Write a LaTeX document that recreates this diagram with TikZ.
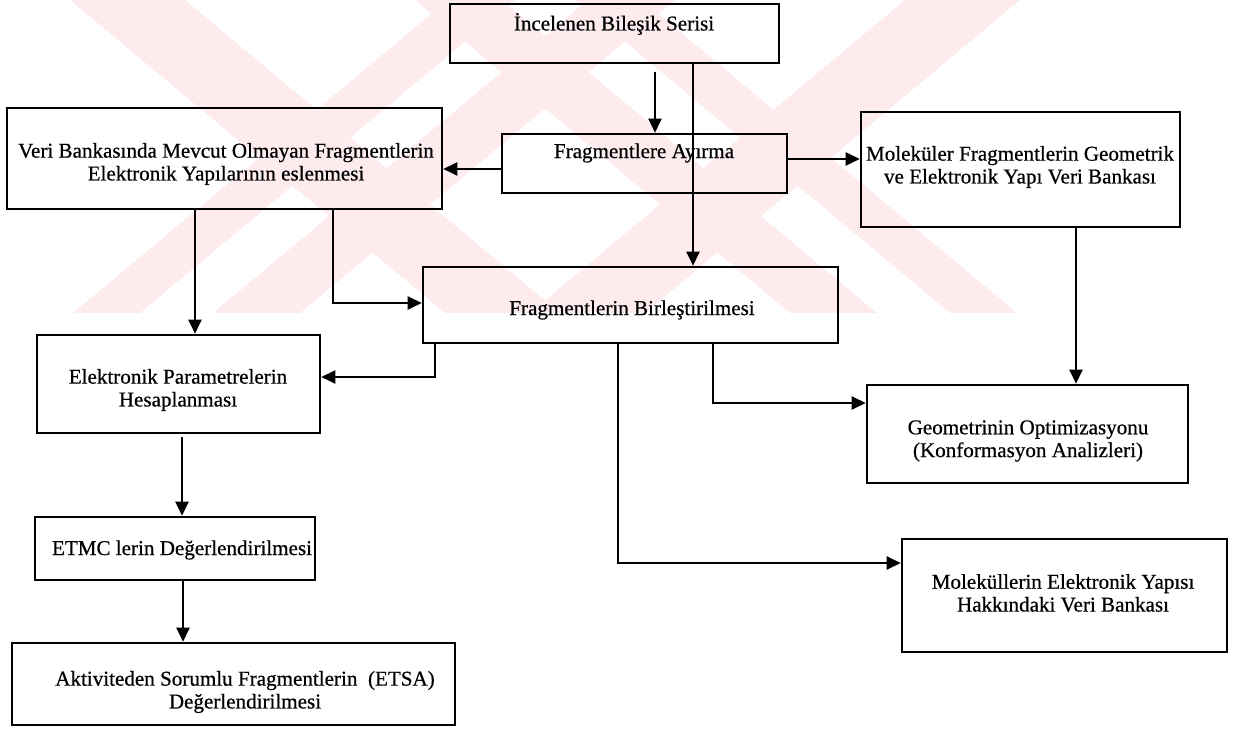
\documentclass[tikz,border=0pt]{standalone}
\usepackage{fontspec}
\setmainfont[FakeBold=0.6]{Liberation Serif}
\usetikzlibrary{arrows.meta,fit}
\definecolor{wm}{RGB}{253,235,238}
\begin{document}
\begin{tikzpicture}[x=0.02cm,y=-0.02cm,
  box/.style={draw,line width=1.5pt,inner sep=0pt},
  txt/.style={font=\fontsize{12}{13}\selectfont,align=center,inner sep=0pt},
  conn/.style={line width=1.1pt,-{Triangle[length=8pt,width=7.5pt]}},
  band/.style={fill=wm,draw=none}]
\useasboundingbox (0,0) rectangle (1250,742);
% watermark
\fill[band] (70,0) -- (185,0) -- (560,313) -- (445,313) -- cycle;
\fill[band] (905,0) -- (1020,0) -- (645,313) -- (530,313) -- cycle;
\fill[band] (448,0) -- (515,0) -- (140,313) -- (73,313) -- cycle;
\fill[band] (588,0) -- (675,0) -- (300,313) -- (213,313) -- cycle;
\fill[band] (415,0) -- (502,0) -- (877,313) -- (790,313) -- cycle;
\fill[band] (575,0) -- (642,0) -- (1017,313) -- (950,313) -- cycle;
% boxes
\node[box,fit={(450,4) (779,63)}] (b1) {};
\node[box,fit={(502,134) (787,193)}] (b2) {};
\node[box,fit={(7,108) (442,209)}] (b3) {};
\node[box,fit={(861,112) (1180,227)}] (b4) {};
\node[box,fit={(423,267) (838,343)}] (b5) {};
\node[box,fit={(37,335) (320,433)}] (b6) {};
\node[box,fit={(867,385) (1188,483)}] (b7) {};
\node[box,fit={(35,517) (315,580)}] (b8) {};
\node[box,fit={(12,643) (455,725)}] (b9) {};
\node[box,fit={(902,539) (1227,652)}] (b10) {};
% texts
\node[txt] (t1) at (614,24) {İncelenen Bileşik Serisi};
\node[txt] (t2) at (644,153) {Fragmentlere Ayırma};
\node[txt] (t3) at (226,164) {Veri Bankasında Mevcut Olmayan Fragmentlerin\\Elektronik Yapılarının eslenmesi};
\node[txt] (t4) at (1020,167) {Moleküler Fragmentlerin Geometrik\\ve Elektronik Yapı Veri Bankası};
\node[txt] (t5) at (632,310) {Fragmentlerin Birleştirilmesi};
\node[txt] (t6) at (178,390) {Elektronik Parametrelerin\\Hesaplanması};
\node[txt] (t7) at (1028,441) {Geometrinin Optimizasyonu\\(Konformasyon Analizleri)};
\node[txt] (t8) at (182,550) {ETMC lerin Değerlendirilmesi};
\node[txt] (t9) at (245,692) {Aktiviteden Sorumlu Fragmentlerin\ \ (ETSA)\\Değerlendirilmesi};
\node[txt] (t10) at (1063,593) {Moleküllerin Elektronik Yapısı\\Hakkındaki Veri Bankası};
% connectors
\coordinate (c1) at (655,72);
\coordinate (c2) at (182,437);
\draw[conn] (c1) -- (c1 |- b2.north);
\draw[conn] (b1.south -| 693,0) -- (b5.north -| 693,0);
\draw[conn] (b2.west |- 0,169) -- (b3.east |- 0,169);
\draw[conn] (b2.east |- 0,159) -- (b4.west |- 0,159);
\draw[conn] (b4.south -| 1076,0) -- (b7.north -| 1076,0);
\draw[conn] (b3.south -| 195,0) -- (b6.north -| 195,0);
\draw[conn] (b3.south -| 333,0) |- (b5.west |- 0,303);
\draw[conn] (b5.south -| 435,0) |- (b6.east |- 0,377);
\draw[conn] (b5.south -| 618,0) |- (b10.west |- 0,563);
\draw[conn] (b5.south -| 713,0) |- (b7.west |- 0,403);
\draw[conn] (c2) -- (c2 |- b8.north);
\draw[conn] (b8.south -| 183,0) -- (b9.north -| 183,0);
\end{tikzpicture}
\end{document}
